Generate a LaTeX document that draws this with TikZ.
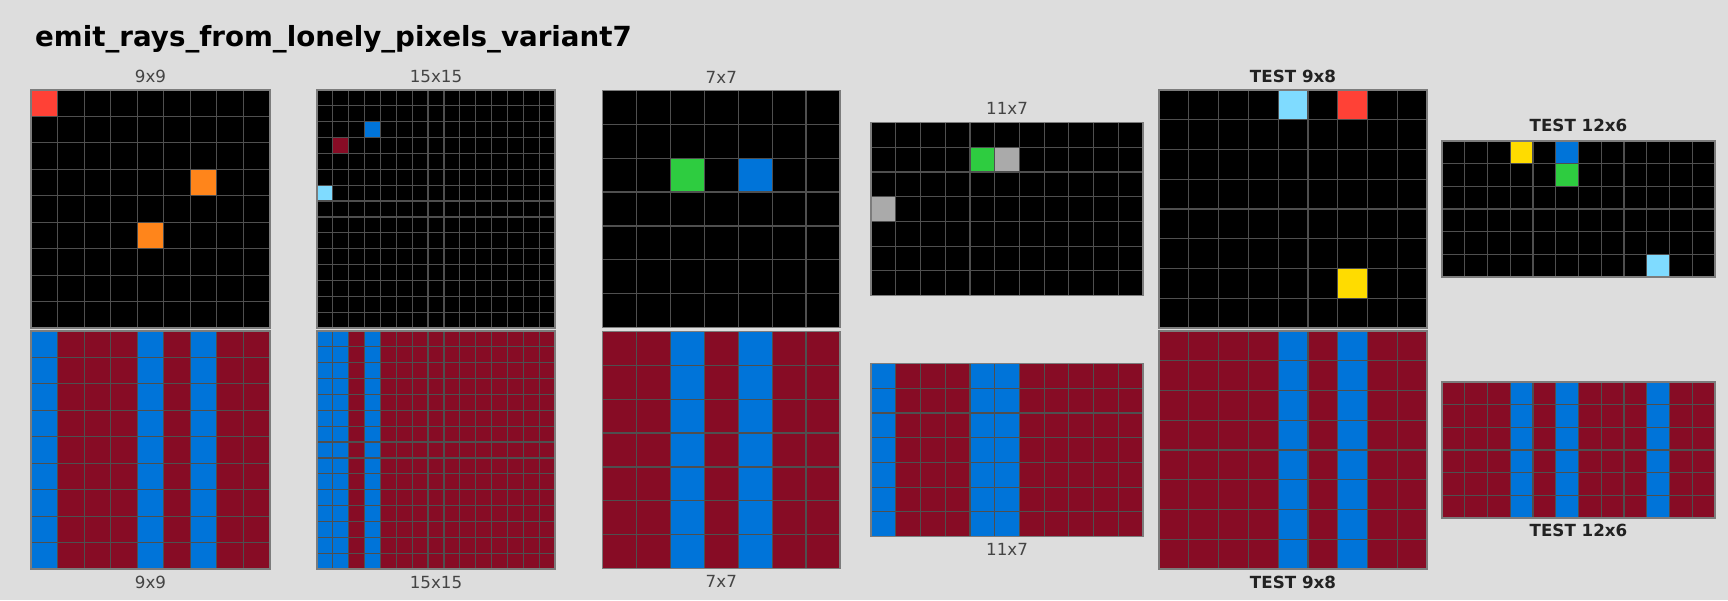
\documentclass[tikz,border=0pt]{standalone}
\usepackage{fontspec}
\setmainfont{DejaVu Sans}
\definecolor{canvas}{HTML}{DDDDDD}
\definecolor{gridgray}{HTML}{4F4F4F}
\definecolor{framegray}{HTML}{7C7C7C}
\definecolor{labelgray}{HTML}{444444}
\definecolor{testdark}{HTML}{222222}
\definecolor{arcblue}{HTML}{0074D9}
\definecolor{arcred}{HTML}{FF4136}
\definecolor{arcgreen}{HTML}{2ECC40}
\definecolor{arcyellow}{HTML}{FFDC00}
\definecolor{arcgray}{HTML}{AAAAAA}
\definecolor{arcorange}{HTML}{FF851B}
\definecolor{arcazure}{HTML}{7FDBFF}
\definecolor{arcmaroon}{HTML}{870C25}

% panel origin from centre, cols, rows, cell size; then background fill
\newcommand{\arcpanel}[6]{%
  \pgfmathsetmacro{\pxo}{#1-#3*#5/2}
  \pgfmathsetmacro{\pyo}{#2-#4*#5/2}
  \fill[#6] (\pxo,\pyo) rectangle ++(#3*#5,#4*#5);}
\newcommand{\arccells}[2]{%
  \foreach \ci/\ri/\clr in {#2} {\fill[\clr] (\pxo+\ci*#1,\pyo+\ri*#1) rectangle ++(#1,#1);}}
\newcommand{\arcrays}[3]{%
  \foreach \ci in {#3} {\fill[arcblue] (\pxo+\ci*#2,\pyo) rectangle ++(#2,#1*#2);}}
\newcommand{\arclines}[3]{%
  \foreach \i in {1,...,#1} {\draw[cellline] (\pxo+\i*#3,\pyo) -- ++(0,#2*#3);}
  \foreach \j in {1,...,#2} {\draw[cellline] (\pxo,\pyo+\j*#3) -- ++(#1*#3,0);}
  \draw[cellframe] (\pxo,\pyo) rectangle ++(#1*#3,#2*#3);}

\begin{document}
\begin{tikzpicture}[x=1pt,y=-1pt,
    cellline/.style={draw=gridgray,line width=1.2pt},
    cellframe/.style={draw=framegray,line width=1.6pt},
    panellabel/.style={inner sep=0pt,anchor=base,text=labelgray,font=\fontsize{16.7}{20}\selectfont},
    testlabel/.style={panellabel,text=testdark,font=\bfseries\fontsize{16.7}{20}\selectfont},
    titletext/.style={inner sep=0pt,anchor=base west,font=\bfseries\fontsize{27.7}{32}\selectfont}]
  \useasboundingbox[fill=canvas] (0,0) rectangle (1728,600);
  \node[titletext] (title) at (35,46) {emit\_rays\_from\_lonely\_pixels\_variant7};

  % pair 1: 9x9
  \arcpanel{150.5}{209}{9}{9}{26.5}{black}
  \arccells{26.5}{0/0/arcred,6/3/arcorange,4/5/arcorange}
  \arclines{9}{9}{26.5}
  \node[panellabel] (in9) at (150.5,\pyo-7) {9x9};
  \arcpanel{150.5}{450}{9}{9}{26.5}{arcmaroon}
  \arcrays{9}{26.5}{0,4,6}
  \arclines{9}{9}{26.5}
  \node[panellabel] (out9) at (150.5,\pyo+9*26.5+19) {9x9};

  % pair 2: 15x15
  \arcpanel{436}{209}{15}{15}{15.87}{black}
  \arccells{15.87}{3/2/arcblue,1/3/arcmaroon,0/6/arcazure}
  \arclines{15}{15}{15.87}
  \node[panellabel] (in15) at (436,\pyo-7) {15x15};
  \arcpanel{436}{450}{15}{15}{15.87}{arcmaroon}
  \arcrays{15}{15.87}{0,1,3}
  \arclines{15}{15}{15.87}
  \node[panellabel] (out15) at (436,\pyo+15*15.87+19) {15x15};

  % pair 3: 7x7
  \arcpanel{721.3}{209}{7}{7}{33.9}{black}
  \arccells{33.9}{2/2/arcgreen,4/2/arcblue}
  \arclines{7}{7}{33.9}
  \node[panellabel] (in7) at (721.3,\pyo-7) {7x7};
  \arcpanel{721.3}{450}{7}{7}{33.9}{arcmaroon}
  \arcrays{7}{33.9}{2,4}
  \arclines{7}{7}{33.9}
  \node[panellabel] (out7) at (721.3,\pyo+7*33.9+19) {7x7};

  % pair 4: 11x7
  \arcpanel{1007}{209}{11}{7}{24.73}{black}
  \arccells{24.73}{4/1/arcgreen,5/1/arcgray,0/3/arcgray}
  \arclines{11}{7}{24.73}
  \node[panellabel] (in11) at (1007,\pyo-8) {11x7};
  \arcpanel{1007}{450}{11}{7}{24.73}{arcmaroon}
  \arcrays{7}{24.73}{0,4,5}
  \arclines{11}{7}{24.73}
  \node[panellabel] (out11) at (1007,\pyo+7*24.73+19) {11x7};

  % test 1: 9x8
  \arcpanel{1293}{209}{9}{8}{29.78}{black}
  \arccells{29.78}{4/0/arcazure,6/0/arcred,6/6/arcyellow}
  \arclines{9}{8}{29.78}
  \node[testlabel] (test9) at (1293,\pyo-7) {TEST 9x8};
  \arcpanel{1293}{450}{9}{8}{29.78}{arcmaroon}
  \arcrays{8}{29.78}{4,6}
  \arclines{9}{8}{29.78}
  \node[testlabel] (testout9) at (1293,\pyo+8*29.78+19) {TEST 9x8};

  % test 2: 12x6
  \arcpanel{1578.5}{209}{12}{6}{22.75}{black}
  \arccells{22.75}{3/0/arcyellow,5/0/arcblue,5/1/arcgreen,9/5/arcazure}
  \arclines{12}{6}{22.75}
  \node[testlabel] (test12) at (1578.5,\pyo-9) {TEST 12x6};
  \arcpanel{1578.5}{450}{12}{6}{22.75}{arcmaroon}
  \arcrays{6}{22.75}{3,5,9}
  \arclines{12}{6}{22.75}
  \node[testlabel] (testout12) at (1578.5,\pyo+6*22.75+18) {TEST 12x6};
\end{tikzpicture}
\end{document}
